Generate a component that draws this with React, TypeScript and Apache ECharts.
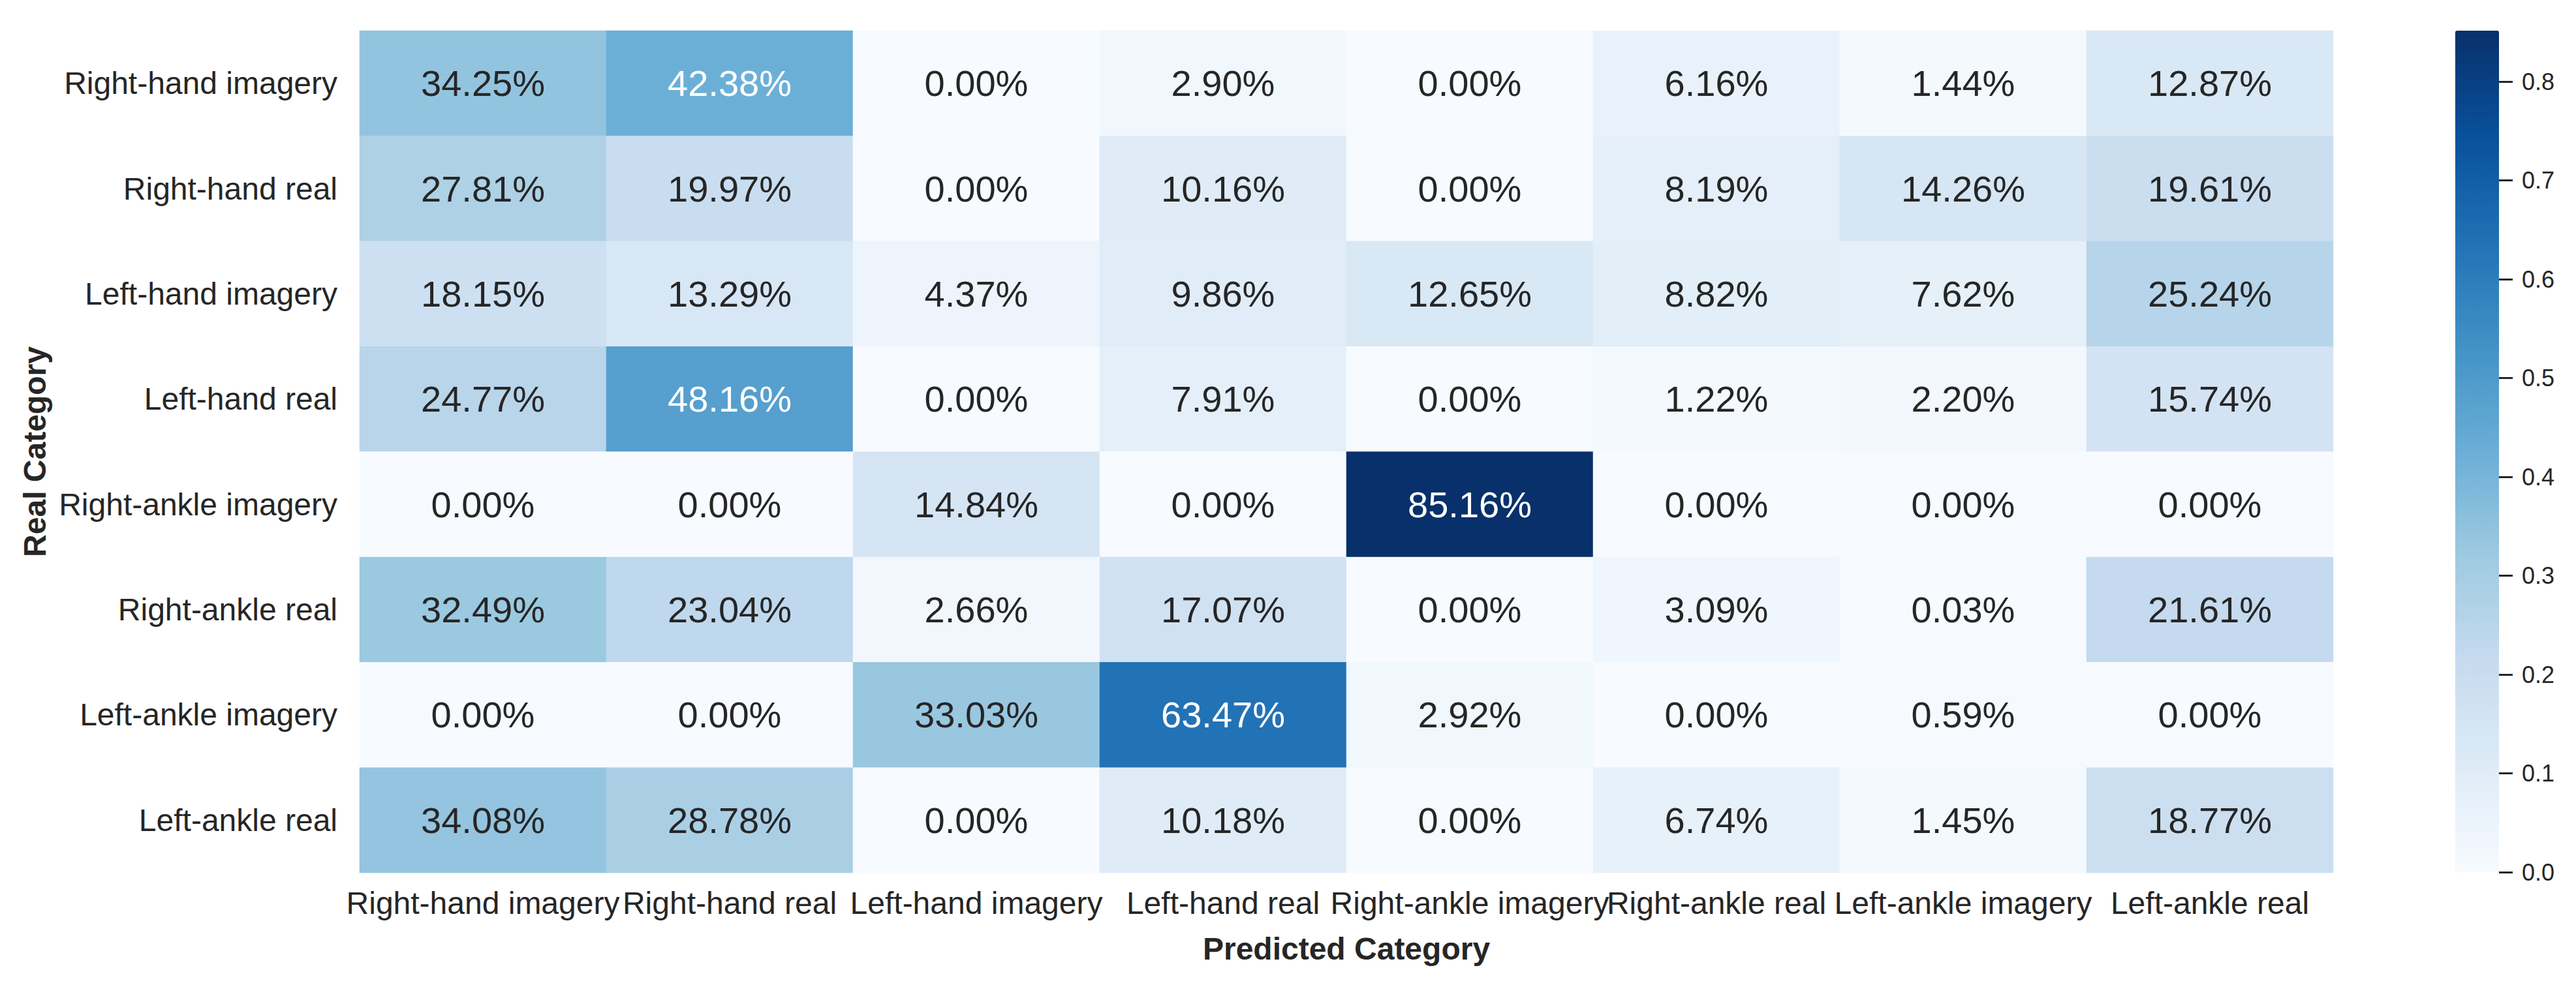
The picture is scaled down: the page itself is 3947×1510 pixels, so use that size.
import React, { useEffect, useRef } from 'react';
import * as echarts from 'echarts';

const categories = [
  'Right-hand imagery',
  'Right-hand real',
  'Left-hand imagery',
  'Left-hand real',
  'Right-ankle imagery',
  'Right-ankle real',
  'Left-ankle imagery',
  'Left-ankle real',
];

// rows = real category, columns = predicted category (fractions)
const rightHandImagery = [0.3425, 0.4238, 0.0, 0.029, 0.0, 0.0616, 0.0144, 0.1287];
const rightHandReal = [0.2781, 0.1997, 0.0, 0.1016, 0.0, 0.0819, 0.1426, 0.1961];
const leftHandImagery = [0.1815, 0.1329, 0.0437, 0.0986, 0.1265, 0.0882, 0.0762, 0.2524];
const leftHandReal = [0.2477, 0.4816, 0.0, 0.0791, 0.0, 0.0122, 0.022, 0.1574];
const rightAnkleImagery = [0.0, 0.0, 0.1484, 0.0, 0.8516, 0.0, 0.0, 0.0];
const rightAnkleReal = [0.3249, 0.2304, 0.0266, 0.1707, 0.0, 0.0309, 0.0003, 0.2161];
const leftAnkleImagery = [0.0, 0.0, 0.3303, 0.6347, 0.0292, 0.0, 0.0059, 0.0];
const leftAnkleReal = [0.3408, 0.2878, 0.0, 0.1018, 0.0, 0.0674, 0.0145, 0.1877];

const matrix = [
  rightHandImagery,
  rightHandReal,
  leftHandImagery,
  leftHandReal,
  rightAnkleImagery,
  rightAnkleReal,
  leftAnkleImagery,
  leftAnkleReal,
];

const colorbarTicks = [0.0, 0.1, 0.2, 0.3, 0.4, 0.5, 0.6, 0.7, 0.8];
const valueMin = 0;
const valueMax = 0.8516;

const blues = ['#f7fbff', '#deebf7', '#c6dbef', '#9ecae1', '#6baed6', '#4292c6', '#2171b5', '#08519c', '#08306b'];

const FONT = '"Liberation Sans", Arial, Helvetica, sans-serif';
const TEXT = '#262626';

export default function App() {
  const ref = useRef<HTMLDivElement>(null);

  useEffect(() => {
    document.body.style.margin = '0';
    const chart = echarts.init(ref.current!, null, { renderer: 'svg' });

    const data: any[] = [];
    matrix.forEach((row, y) => {
      row.forEach((v, x) => {
        data.push({
          value: [x, y, v],
          label: { color: v > 0.38 ? '#ffffff' : TEXT },
        });
      });
    });

    const option: any = {
      animation: false,
      backgroundColor: '#ffffff',
      textStyle: { fontFamily: FONT },
      grid: [
        {
          left: 551,
          top: 47,
          width: 3024,
          height: 1291,
          outerBoundsMode: 'none',
          containLabel: false,
        },
        {
          left: 3762,
          top: 47,
          width: 67,
          height: 1290,
          outerBoundsMode: 'none',
          containLabel: false,
        },
      ],
      xAxis: [
        {
          type: 'category',
          gridIndex: 0,
          data: categories,
          axisLine: { show: false },
          axisTick: { show: false },
          splitLine: { show: false },
          axisLabel: {
            interval: 0,
            fontSize: 48,
            fontFamily: FONT,
            color: TEXT,
            margin: 22,
          },
          name: 'Predicted Category',
          nameLocation: 'middle',
          nameGap: 92,
          nameTextStyle: { fontSize: 48, fontWeight: 'bold', fontFamily: FONT, color: TEXT },
        },
        {
          type: 'category',
          gridIndex: 1,
          data: [''],
          show: false,
        },
      ],
      yAxis: [
        {
          type: 'category',
          gridIndex: 0,
          data: categories,
          inverse: true,
          axisLine: { show: false },
          axisTick: { show: false },
          splitLine: { show: false },
          axisLabel: {
            interval: 0,
            fontSize: 48,
            fontFamily: FONT,
            color: TEXT,
            margin: 34,
          },
          name: 'Real Category',
          nameLocation: 'middle',
          nameGap: 474,
          nameTextStyle: { fontSize: 48, fontWeight: 'bold', fontFamily: FONT, color: TEXT },
        },
        {
          type: 'value',
          gridIndex: 1,
          position: 'right',
          min: valueMin,
          max: valueMax,
          axisLine: { show: false },
          splitLine: { show: false },
          axisTick: {
            show: true,
            length: 21,
            lineStyle: { color: TEXT, width: 3 },
            customValues: colorbarTicks,
          },
          axisLabel: {
            fontSize: 36,
            fontFamily: FONT,
            color: TEXT,
            margin: 35,
            customValues: colorbarTicks,
            formatter: (v: number) => v.toFixed(1),
          },
        },
      ],
      visualMap: {
        type: 'continuous',
        seriesIndex: 0,
        min: valueMin,
        max: valueMax,
        orient: 'vertical',
        left: 3762,
        top: 47,
        itemWidth: 67,
        itemHeight: 1290,
        padding: 0,
        text: null,
        calculable: false,
        hoverLink: false,
        showLabel: false,
        inRange: { color: blues },
      },
      series: [
        {
          type: 'heatmap',
          xAxisIndex: 0,
          yAxisIndex: 0,
          data,
          itemStyle: { borderWidth: 0 },
          label: {
            show: true,
            fontSize: 56,
            fontFamily: FONT,
            formatter: (p: any) => (p.value[2] * 100).toFixed(2) + '%',
          },
          emphasis: { disabled: true },
        },
      ],
    };

    chart.setOption(option);
    return () => chart.dispose();
  }, []);

  return <div ref={ref} style={{ width: 3947, height: 1510 }} />;
}
